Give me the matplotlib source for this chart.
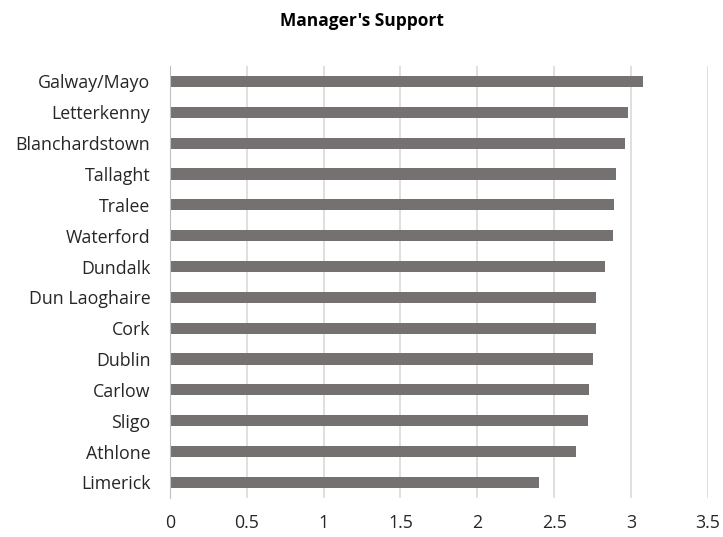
import numpy as np
import matplotlib.pyplot as plt

campuses = ["Galway/Mayo", "Letterkenny", "Blanchardstown", "Tallaght", "Tralee",
            "Waterford", "Dundalk", "Dun Laoghaire", "Cork", "Dublin", "Carlow",
            "Sligo", "Athlone", "Limerick"]
scores = [3.08, 2.98, 2.96, 2.90, 2.89, 2.88, 2.83, 2.77, 2.77, 2.75, 2.73,
          2.72, 2.64, 2.40]
xticks = [0, 0.5, 1, 1.5, 2, 2.5, 3, 3.5]
xtick_labels = ["0", "0.5", "1", "1.5", "2", "2.5", "3", "3.5"]

plt.rcParams["font.family"] = ["Open Sans", "DejaVu Sans"]

fig = plt.figure(figsize=(7.23, 5.37), dpi=100)
ax = fig.add_axes([0.235, 0.073, 0.744, 0.804])

y = np.arange(len(campuses))
ax.barh(y, scores, height=0.36, color="#767171", zorder=3)
ax.set_ylim(len(campuses) - 0.5, -0.5)
ax.set_xlim(0, 3.5)
ax.set_yticks(y)
ax.set_yticklabels(campuses, fontsize=12.8, color="#262626")
ax.set_xticks(xticks)
ax.set_xticklabels(xtick_labels, fontsize=12.8, color="#262626")
ax.tick_params(axis="both", length=0)
ax.tick_params(axis="x", pad=12)
ax.tick_params(axis="y", pad=14)

ax.grid(axis="x", color="#d9d9d9", linewidth=1.2, zorder=0)
for side in ["top", "right", "bottom"]:
    ax.spines[side].set_visible(False)
ax.spines["left"].set_color("#bfbfbf")
ax.spines["left"].set_zorder(4)

fig.text(0.5, 0.96, "Manager's Support", ha="center", va="center",
         fontsize=12.5, fontweight="bold", color="#000000")

fig.savefig("out.png", dpi=100)
